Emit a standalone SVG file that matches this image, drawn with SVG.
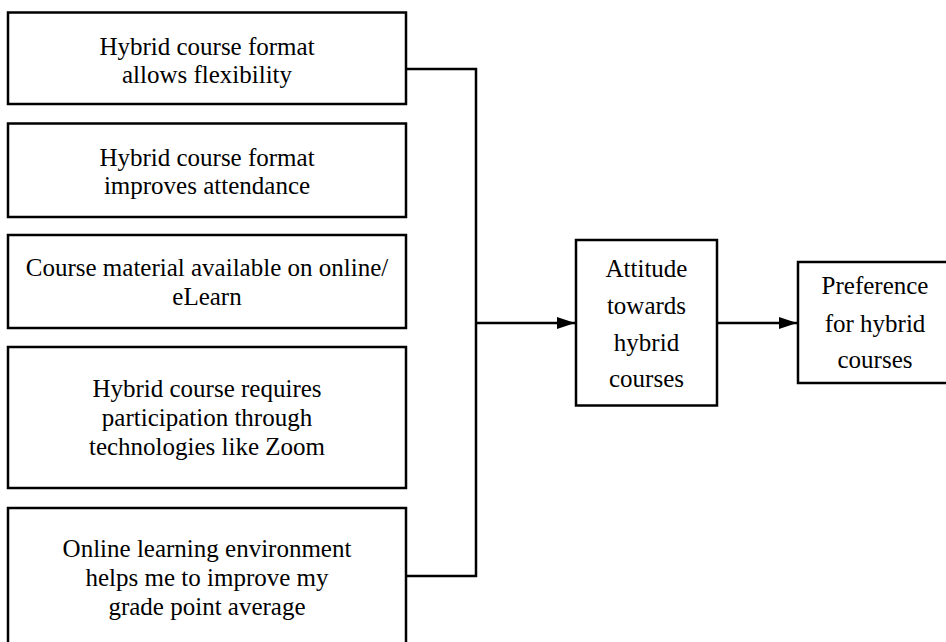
<svg xmlns="http://www.w3.org/2000/svg" width="946" height="642" viewBox="0 0 946 642">
<defs>
<style>
.box{fill:#fff;stroke:#000;stroke-width:2.5}
.t{font-family:"Liberation Serif","Times New Roman",serif;font-size:25px;fill:#000;text-anchor:middle}
.ln{fill:none;stroke:#000;stroke-width:2.5}
</style>
<marker id="ah" markerWidth="18" markerHeight="12" refX="18" refY="6" orient="auto" markerUnits="userSpaceOnUse">
<path d="M0,0 L18,6 L0,12 Z" fill="#000"/>
</marker>
</defs>
<rect width="946" height="642" fill="#fff"/>
<g id="n1">
<rect class="box" x="8" y="12.5" width="398" height="91.5"/>
<text class="t" x="207" y="55">Hybrid course format</text>
<text class="t" x="207" y="83">allows flexibility</text>
</g>
<g id="n2">
<rect class="box" x="8" y="123.5" width="398" height="93.5"/>
<text class="t" x="207" y="166">Hybrid course format</text>
<text class="t" x="207" y="194">improves attendance</text>
</g>
<g id="n3">
<rect class="box" x="8" y="235" width="398" height="93"/>
<text class="t" x="207" y="276">Course material available on online/</text>
<text class="t" x="207" y="305">eLearn</text>
</g>
<g id="n4">
<rect class="box" x="8" y="347" width="398" height="141"/>
<text class="t" x="207" y="397">Hybrid course requires</text>
<text class="t" x="207" y="426">participation through</text>
<text class="t" x="207" y="455">technologies like Zoom</text>
</g>
<g id="n5">
<rect class="box" x="8" y="508" width="398" height="150"/>
<text class="t" x="207" y="557">Online learning environment</text>
<text class="t" x="207" y="586">helps me to improve my</text>
<text class="t" x="207" y="615">grade point average</text>
</g>
<g id="n6">
<rect class="box" x="576" y="240" width="141" height="165.5"/>
<text class="t" x="646.5" y="277">Attitude</text>
<text class="t" x="646.5" y="314">towards</text>
<text class="t" x="646.5" y="351">hybrid</text>
<text class="t" x="646.5" y="387">courses</text>
</g>
<g id="n7">
<rect class="box" x="798" y="262" width="156" height="121"/>
<text class="t" x="875" y="294">Preference</text>
<text class="t" x="875" y="332">for hybrid</text>
<text class="t" x="875" y="368">courses</text>
</g>
<g id="connectors">
<polyline class="ln" points="406,69 476,69 476,576 406,576"/>
<line class="ln" x1="476" y1="323" x2="575" y2="323" marker-end="url(#ah)"/>
<line class="ln" x1="717" y1="323" x2="797" y2="323" marker-end="url(#ah)"/>
</g>
</svg>
